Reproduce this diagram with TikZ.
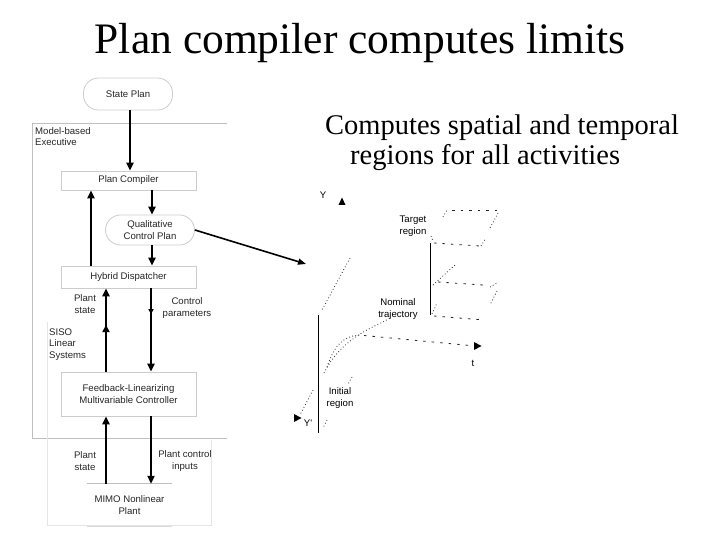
\documentclass[tikz,border=0pt]{standalone}
\usepackage{fontspec}
\setmainfont{Liberation Serif}
\newfontfamily\arialf{Liberation Sans}
\usetikzlibrary{arrows.meta,decorations.markings}
\begin{document}
\begin{tikzpicture}[x=1pt,y=-1pt,
  lbl/.style={font=\arialf\fontsize{9.6}{11.5}\selectfont, align=center, inner sep=0pt, text=black!85},
  box/.style={lbl, draw=black!20, line width=0.8pt, minimum width=135pt},
  pill/.style={lbl, draw=black!20, line width=0.8pt, rounded corners=15pt, minimum width=89pt},
  arr/.style={line width=2pt, -{Triangle[width=7pt,length=8pt]}},
  midarr/.style 2 args={postaction={decorate}, decoration={markings, mark=at position #1 with {\arrow{Triangle[width=#2,length=#2]}}}},
  frame/.style={black!25, line width=0.8pt},
  dots/.style={line width=0.8pt, black!85, dash pattern=on 0.8pt off 2.4pt},
  dashes/.style={line width=0.8pt, black!85, dash pattern=on 2.5pt off 6pt},
  solidax/.style={line width=0.9pt, black},
  plbl/.style={font=\arialf\fontsize{9.6}{11.5}\selectfont, align=center, inner sep=0pt},
  big/.style={font=\fontsize{43.5}{48}\selectfont, inner sep=0pt},
  sub/.style={font=\fontsize{28.5}{32}\selectfont, inner sep=0pt}]
\useasboundingbox (0,0) rectangle (720,540);
\fill[white] (0,0) rectangle (720,540);

% titles
\node[big, anchor=base] (title) at (360,54) {Plan compiler computes limits};
\node[sub, anchor=base west] (sub1) at (325,135) {Computes spatial and temporal};
\node[sub, anchor=base west] (sub2) at (350,165) {regions for all activities};

% helper x coordinates
\coordinate (x91) at (91,0);
\coordinate (x106) at (106,0);
\coordinate (x130) at (130,0);
\coordinate (x151) at (151,0);
\coordinate (x152) at (152,0);

% frames
\draw[frame] (227,123) -- (32,123) -- (32,438) -- (227,438);
\draw[black!10, line width=0.6pt] (47,322) -- (47,525) -- (211,525) -- (211,440);
\node[lbl, anchor=north west, align=left] (mbe) at (35,127) {Model-based\\Executive};

% nodes
\node[pill, minimum height=32pt] (sp) at (128,94) {State Plan};
\node[box, minimum height=19pt] (pc) at (128.5,180.5) {Plan Compiler};
\node[pill, minimum height=30pt] (qcp) at (150,230) {Qualitative\\Control Plan};
\node[box, minimum height=22pt] (hd) at (128.5,277) {Hybrid Dispatcher};
\node[box, minimum height=44pt] (fb) at (128.5,394) {Feedback-Linearizing\\Multivariable Controller};
\node[lbl, minimum width=85pt, minimum height=42pt] (mp) at (129.5,505) {MIMO Nonlinear\\Plant};
\draw[black!25, line width=1pt] (mp.north west) -- (mp.north east);
\draw[black!15, line width=0.8pt] (mp.south west) -- (mp.south east);

% labels
\node[lbl] (ps1) at (85,304) {Plant\\state};
\node[lbl] (cp) at (187,308) {Control\\parameters};
\node[lbl, align=left, anchor=west] (siso) at (49,344.5) {SISO\\Linear\\Systems};
\node[lbl] (ps2) at (85,461) {Plant\\state};
\node[lbl] (pci) at (185,461) {Plant control\\inputs};

% arrows
\draw[arr] (sp.south -| x130) -- (pc.north -| x130);
\draw[arr] (pc.south -| x152) -- (qcp.north -| x152);
\draw[arr] (qcp.south -| x152) -- (hd.north -| x152);
\draw[arr] (hd.north -| x91) -- (pc.south -| x91);
\draw[arr, midarr={0.56}{7pt}] (fb.north -| x106) -- (hd.south -| x106);
\draw[arr, midarr={0.31}{5pt}] (hd.south -| x151) -- (fb.north -| x151);
\draw[arr] (mp.north -| x106) -- (fb.south -| x106);
\draw[arr] (fb.south -| x151) -- (mp.north -| x151);
\coordinate (tip) at (306,264);
\draw[line width=1.6pt, -{Triangle[width=6pt,length=8pt]}] (qcp.east) -- (tip);

% plot
\node[plbl] (ylab) at (323,195) {Y};
\fill (338.5,205) -- (345.5,205) -- (342,197.5) -- cycle;
\node[plbl] (ylab2) at (308,423) {Y'};
\fill (294,414) -- (294,422) -- (301.5,418) -- cycle;
\node[plbl] (tlab) at (473,363) {t};
\fill (474,342) -- (474,350) -- (481.5,346) -- cycle;
\node[plbl] (target) at (413,226) {Target\\region};
\node[plbl] (nominal) at (398,309) {Nominal\\trajectory};
\node[plbl] (initial) at (340,398) {Initial\\region};

\draw[solidax] (318,315) -- (318,433);
\draw[solidax] (430.5,243) -- (430.5,315);

% initial region / axes
\draw[dots] (350,258) -- (322,310);
\draw[dots] (313,390) -- (300,415);
\draw[dots] (352,377) -- (348,384);
\draw[dots] (327,420) -- (323,428);
\draw[dots] (324,373) .. controls (336,350) and (352,336) .. (383,322) -- (390,318);
\draw[dots] (327,367) .. controls (333,350) and (340,336) .. (360,335);
\draw[dashes] (364,335.5) -- (470,345.5);

% target region
\draw[dots] (443,217) -- (447,210);
\draw[dashes] (452,210) -- (497,210);
\draw[dots] (498,213) -- (490,228);
\draw[dots] (431,236) -- (433,241);
\draw[dashes] (434,243) -- (480,246);
\draw[dots] (481,246) -- (486,238);
\draw[dots] (433,285) -- (455,265);
\draw[dashes] (438,282) -- (483,285);
\draw[dots] (490,287) -- (497,283);
\draw[dots] (497,291) -- (490,305);
\draw[dots] (432,314) -- (437,303);
\draw[dashes] (434,316) -- (484,320);
\end{tikzpicture}
\end{document}
